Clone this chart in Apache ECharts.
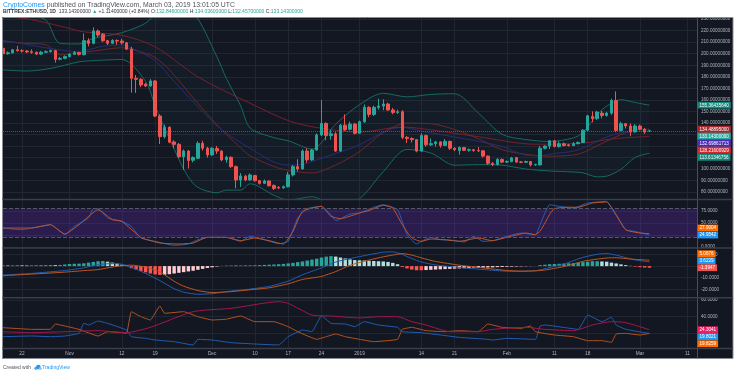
<!DOCTYPE html>
<html><head><meta charset="utf-8">
<script src="https://cdn.jsdelivr.net/npm/echarts@6/dist/echarts.min.js"></script>
<style>html,body{margin:0;padding:0;background:#fff;}#c{width:736px;height:374px;}</style>
</head><body><div id="c"></div>
<script>
// ---------------- DATA ----------------
// [date, open, close, low, high]
const candles = [
['10-18',204.7,200.0,198.8,206.0],['10-19',200.0,200.8,199.2,202.0],['10-20',200.8,203.4,200.2,204.2],
['10-21',203.4,202.6,201.8,206.8],['10-22',202.6,202.4,201.0,203.8],['10-23',202.4,201.6,200.6,203.2],
['10-24',201.8,201.2,200.0,203.8],['10-25',201.2,199.7,198.9,202.0],['10-26',199.7,201.3,199.0,202.5],
['10-27',201.3,201.8,200.8,202.9],['10-28',201.8,202.7,201.2,203.6],['10-29',202.7,195.2,192.3,203.5],
['10-30',195.2,196.0,194.4,197.2],['10-31',196.0,197.5,195.3,198.6],['11-01',197.6,199.5,196.8,200.6],
['11-02',199.5,201.0,198.9,202.4],['11-03',201.0,199.5,198.5,201.6],['11-04',199.2,211.3,198.6,217.6],
['11-05',211.3,209.0,206.4,213.5],['11-06',209.0,219.7,208.2,222.9],['11-07',219.7,216.2,214.5,221.0],
['11-08',217.0,211.3,210.0,217.8],['11-09',211.3,209.0,207.6,212.0],['11-10',209.0,211.5,208.4,212.6],
['11-11',211.5,211.0,207.8,212.4],['11-12',211.0,209.5,208.0,213.0],['11-13',209.5,204.0,203.2,210.0],
['11-14',204.0,178.7,166.2,206.0],['11-15',178.7,177.8,166.0,181.5],['11-16',177.8,172.9,171.0,178.8],
['11-17',173.6,172.0,171.0,174.8],['11-18',172.0,176.4,171.5,178.0],['11-19',176.4,146.0,145.0,177.0],
['11-20',146.0,128.1,121.7,147.5],['11-21',128.1,136.2,126.5,138.5],['11-22',136.2,123.2,122.4,137.0],
['11-23',123.5,121.4,118.0,125.0],['11-24',121.4,110.7,109.5,122.6],['11-25',110.7,115.6,99.2,117.0],
['11-26',115.6,107.3,100.5,116.4],['11-27',107.6,109.9,105.8,111.0],['11-28',109.3,122.3,108.5,124.0],
['11-29',122.3,118.0,116.0,124.5],['11-30',118.0,112.2,110.0,119.2],['12-01',112.2,118.0,111.5,119.0],
['12-02',117.8,115.6,113.0,120.0],['12-03',115.6,107.9,106.8,116.2],['12-04',108.1,110.2,105.5,111.6],
['12-05',110.2,102.1,101.0,111.0],['12-06',102.1,90.5,83.3,103.0],['12-07',90.5,94.0,84.5,96.5],
['12-08',93.8,90.5,89.5,95.0],['12-09',90.5,94.9,89.8,96.2],['12-10',94.3,89.9,89.0,95.0],
['12-11',89.9,87.6,86.5,90.5],['12-12',87.6,89.6,87.0,90.8],['12-13',89.6,85.5,84.9,90.0],
['12-14',85.8,83.2,81.8,86.5],['12-15',84.2,83.6,82.5,85.0],['12-16',83.6,84.6,83.0,85.8],
['12-17',84.6,94.9,84.0,97.5],['12-18',94.9,102.1,93.5,103.5],['12-19',102.1,100.1,98.0,108.5],
['12-20',100.1,115.6,99.5,117.0],['12-21',115.6,107.9,105.5,118.0],['12-22',107.9,116.5,107.0,117.5],
['12-23',116.5,129.5,116.0,131.0],['12-24',129.5,139.6,128.5,159.8],['12-25',139.6,129.0,125.0,140.5],
['12-26',129.0,130.5,125.5,134.0],['12-27',130.5,115.6,115.0,132.0],['12-28',115.6,138.0,115.0,139.0],
['12-29',138.0,134.0,133.0,147.4],['12-30',134.5,139.0,133.5,141.0],['12-31',139.0,131.0,130.0,140.0],
['01-01',131.0,141.0,130.5,142.0],['01-02',141.0,153.5,140.0,156.0],['01-03',153.5,147.4,145.0,154.5],
['01-04',147.4,153.5,146.0,155.0],['01-05',153.5,154.6,151.5,161.0],['01-06',154.6,156.4,151.0,160.5],
['01-07',156.4,151.2,150.5,157.5],['01-08',151.2,149.1,147.5,153.0],['01-09',149.1,149.7,147.8,151.5],
['01-10',149.7,127.5,126.0,151.0],['01-11',127.5,126.5,122.5,128.5],['01-12',126.5,125.5,123.0,127.5],
['01-13',125.5,115.6,114.5,126.0],['01-14',115.6,129.0,115.0,131.0],['01-15',129.0,121.0,119.5,130.0],
['01-16',121.0,122.0,120.0,126.5],['01-17',122.0,123.5,119.5,124.5],['01-18',123.5,120.5,118.5,124.0],
['01-19',120.5,124.0,120.0,126.0],['01-20',124.0,118.0,116.5,124.5],['01-21',118.0,116.8,115.5,118.8],
['01-22',116.0,118.6,112.5,119.5],['01-23',118.6,116.3,115.5,119.2],['01-24',116.3,116.8,115.0,117.8],
['01-25',116.8,116.0,115.0,117.2],['01-26',116.0,115.8,114.8,119.0],['01-27',115.8,111.2,110.0,116.4],
['01-28',111.2,105.0,103.5,111.6],['01-29',105.0,103.9,102.5,106.0],['01-30',103.9,108.4,103.0,109.5],
['01-31',108.4,106.0,105.0,109.0],['02-01',106.0,106.5,105.2,107.5],['02-02',106.5,109.6,105.8,110.5],
['02-03',109.9,106.0,105.5,110.2],['02-04',106.2,105.9,105.0,107.0],['02-05',105.9,106.5,105.3,107.2],
['02-06',106.5,103.6,102.2,107.0],['02-07',103.6,103.9,102.8,104.6],['02-08',103.6,118.0,103.0,120.0],
['02-09',118.0,119.9,117.0,120.5],['02-10',119.9,124.5,117.2,125.0],['02-11',124.5,119.5,119.0,125.0],
['02-12',119.5,121.9,118.5,124.0],['02-13',121.9,120.4,119.5,123.0],['02-14',121.0,120.4,119.5,121.8],
['02-15',120.4,122.0,119.8,123.4],['02-16',122.0,123.0,121.4,124.0],['02-17',123.0,133.7,122.6,134.5],
['02-18',133.7,146.2,133.0,147.0],['02-19',145.6,143.9,140.5,150.0],['02-20',143.9,149.4,142.5,150.5],
['02-21',148.5,146.5,144.0,150.5],['02-22',146.5,148.5,145.5,149.5],['02-23',148.5,159.5,147.0,161.0],
['02-24',159.5,133.5,132.0,167.3],['02-25',133.5,139.3,132.5,141.0],['02-26',139.3,137.3,135.2,140.0],
['02-27',137.3,132.2,128.5,139.5],['02-28',132.2,137.3,131.5,139.0],['03-01',137.3,134.5,133.5,138.5],
['03-02',134.5,132.03,130.5,135.5],['03-03',132.846,133.143,132.457,134.036]
];
const futureDates = ['03-04','03-05','03-06','03-07','03-08','03-09','03-10','03-11','03-12','03-13'];

// x-axis tick labels (date -> label)
const tickLabels = {'10-22':'22','11-01':'Nov','11-12':'12','11-19':'19','12-01':'Dec','12-10':'10',
  '12-17':'17','12-24':'24','01-01':'2019','01-14':'14','01-21':'21','02-01':'Feb','02-11':'11',
  '02-18':'18','03-01':'Mar','03-11':'11'};
const priceTicks = [80,90,100,110,120,130,140,150,160,170,180,190,200,210,220,230];
const stochTicks = [0,25,50,75];
const macdTicks = [-20,-10,0,10];
const dmiTicks = [20,40,60];

// Bollinger Bands
const bbUpper = [['10-18',236],['10-23',233],['10-27',229.3],['10-30',209],['11-03',208.5],['11-06',213.3],
 ['11-12',218.3],['11-17',226.5],['11-19',234.5],['11-22',246],['11-27',236],['12-02',197.4],['12-04',178.5],
 ['12-07',154.9],['12-09',135.6],['12-14',127.2],['12-17',124.5],['12-22',117.3],['12-27',139],['01-01',155.9],
 ['01-06',165.7],['01-11',162.6],['01-16',164.7],['01-21',165.3],['01-26',148.6],['01-31',130.1],['02-05',125.6],
 ['02-10',123.9],['02-15',127],['02-17',131.7],['02-20',147.2],['02-22',154.6],['02-25',160.1],['02-28',157.7],
 ['03-03',155.3643564]];
const bbLower = [['10-18',186],['10-23',185],['10-27',186.5],['10-30',189],['11-03',193],['11-06',194],
 ['11-12',195],['11-17',176],['11-19',155],['11-22',126.4],['11-27',87.4],['12-02',79.4],['12-04',81.7],
 ['12-07',81.7],['12-09',87.2],['12-14',77.2],['12-17',73.1],['12-22',75.9],['12-27',68],['01-01',74.3],
 ['01-06',97.7],['01-11',117],['01-16',113.9],['01-21',103.3],['01-26',103.8],['01-31',103.3],['02-05',100],
 ['02-10',98.3],['02-15',97.4],['02-17',96.7],['02-20',93.2],['02-22',93.8],['02-25',99.7],['02-28',110.1],
 ['03-03',113.61346756]];
const bbBasis = [['10-18',211],['10-23',209],['10-27',207.9],['10-30',199],['11-03',200.8],['11-06',202.3],
 ['11-12',205.2],['11-17',200.2],['11-19',196.7],['11-22',186.2],['11-27',161.7],['12-02',138.4],['12-04',130.1],
 ['12-07',118.3],['12-09',111.4],['12-14',102.2],['12-17',98.8],['12-22',96.6],['12-27',103.5],['01-01',115.1],
 ['01-06',131.7],['01-11',139.8],['01-16',139.3],['01-21',134.3],['01-26',126.2],['01-31',116.7],['02-05',112.8],
 ['02-10',111.1],['02-15',112.2],['02-17',114.2],['02-20',120.2],['02-22',124.2],['02-25',129.9],['02-28',133.9],
 ['03-03',134.48895]];
const emaLine = [['10-18',211.5],['10-23',208],['10-28',204.5],['11-02',202],['11-05',203.5],['11-08',206.5],
 ['11-12',207.5],['11-15',203],['11-19',194],['11-23',176],['11-28',154],['12-03',134],['12-09',118],
 ['12-14',106],['12-17',103.5],['12-20',104],['12-23',108],['12-27',113.5],['01-01',121],['01-06',132],
 ['01-10',136.2],['01-14',133],['01-18',130],['01-22',127],['01-26',124],['01-31',119.5],['02-05',112],
 ['02-08',111.5],['02-11',113.5],['02-15',115.5],['02-18',120],['02-21',126],['02-24',130.5],['02-27',132.3],
 ['03-03',132.69861713]];
const slowLine = [['10-18',233],['10-24',229.5],['10-30',224],['11-04',219],['11-12',216],['11-19',206],
 ['11-28',180],['12-09',157],['12-17',142],['12-23',136],['01-01',132],['01-10',136.5],['01-16',134],
 ['01-26',128],['02-07',121.5],['02-17',122.5],['02-24',126.5],['03-03',128.21600929]];

// Stochastic
const stochK = [['10-18',39.5],['10-22',36],['10-24',39.5],['10-28',46.5],['10-30',32.5],['10-31',25.6],
 ['11-02',43],['11-05',60.4],['11-06',79.8],['11-07',79.8],['11-09',60.4],['11-12',53.5],['11-14',43],
 ['11-16',18.7],['11-19',11.8],['11-23',3.5],['11-26',6.2],['11-28',15.2],['11-30',20.1],['12-04',20.1],
 ['12-07',11.8],['12-09',22.2],['12-12',15.2],['12-15',6.9],['12-17',11.8],['12-19',60.4],['12-21',79.8],
 ['12-24',84.7],['12-26',67.4],['12-27',54.8],['12-30',68.8],['01-01',70.9],['01-04',82.6],['01-06',88.1],
 ['01-09',77.7],['01-11',25.6],['01-13',6.2],['01-14',11.8],['01-16',20.1],['01-18',15.2],['01-21',13.8],
 ['01-23',10.4],['01-25',22.2],['01-27',11.8],['01-29',13.2],['02-01',22.2],['02-04',29.1],['02-07',25.6],
 ['02-08',46.5],['02-10',88.1],['02-12',84.7],['02-15',81.3],['02-18',91.6],['02-22',95.1],['02-23',81.3],
 ['02-26',36],['02-28',32.5],['03-03',24.9542]];
const stochD = [['10-18',39.5],['10-24',39.5],['10-28',46.5],['10-31',27],['11-03',46.5],['11-07',77.7],
 ['11-10',57],['11-12',53.5],['11-16',20.1],['11-20',8.3],['11-24',6.2],['11-27',8.3],['11-30',20.1],
 ['12-04',20.1],['12-07',13.2],['12-10',18.7],['12-13',13.2],['12-16',6.2],['12-18',32.5],['12-20',74.2],
 ['12-24',84.7],['12-26',63.9],['12-28',59],['12-31',67.4],['01-01',70.9],['01-03',76],['01-06',86.8],
 ['01-08',81.3],['01-10',46.5],['01-12',18.7],['01-14',11.8],['01-16',16.6],['01-19',15.2],['01-22',11.8],
 ['01-24',15.2],['01-26',18.7],['01-29',13.2],['02-01',20.1],['02-05',29.1],['02-07',25.6],['02-08',33],
 ['02-09',50],['02-10',68],['02-11',80],['02-14',83],['02-16',82.6],['02-19',91.6],['02-22',93.7],
 ['02-24',67.4],['02-26',36],['03-01',29.1],['03-03',27.9004]];

// MACD
const macdLine = [['10-18',-7.7],['10-24',-6.3],['10-31',-3.8],['11-04',-1.5],['11-07',1.2],['11-10',2.2],
 ['11-12',1.6],['11-14',-1.0],['11-17',-6.3],['11-20',-12.5],['11-23',-19.5],['11-25',-22.5],['11-28',-24.3],
 ['12-01',-23.8],['12-05',-21.5],['12-09',-19.8],['12-13',-17.5],['12-17',-13],['12-20',-7.5],['12-24',-1.5],
 ['12-27',3.5],['12-30',6.5],['01-03',9.8],['01-06',12.0],['01-08',12.3],['01-10',10],['01-12',6.5],
 ['01-14',3.5],['01-17',1],['01-22',-1.2],['01-26',-2.6],['01-29',-3.6],['02-01',-4.4],['02-04',-4.6],
 ['02-07',-4.0],['02-09',-2.2],['02-13',1.8],['02-17',7.5],['02-20',10.2],['02-22',10.8],['02-24',9.5],
 ['02-26',7.3],['02-28',5.3],['03-03',3.6229]];
const macdSignal = [['10-18',-8.3],['10-24',-6.9],['10-31',-5.2],['11-04',-3.9],['11-07',-3.0],['11-10',-0.8],
 ['11-12',0.4],['11-14',0.8],['11-17',-0.9],['11-20',-4.9],['11-23',-13.1],['11-25',-17.3],['11-28',-21.1],
 ['12-01',-22.8],['12-05',-22.0],['12-09',-20.4],['12-13',-18.7],['12-17',-15.3],['12-20',-11.5],['12-24',-8.9],
 ['12-27',-4.7],['12-30',0.7],['01-03',5.2],['01-06',8.0],['01-08',9.5],['01-10',10.8],['01-12',9.5],
 ['01-14',7.1],['01-17',4.0],['01-22',0.8],['01-26',-1.1],['01-29',-2.5],['02-01',-3.8],['02-04',-4.3],
 ['02-07',-4.1],['02-09',-3.4],['02-13',-0.4],['02-17',4.1],['02-20',6.0],['02-22',7.0],['02-24',7.2],
 ['02-26',6.5],['02-28',5.8],['03-03',5.0676]];
// histogram, one value per candle (Oct 18 .. Mar 3)
const macdHist = [0.6,0.5,0.6,0.7,0.6,0.5,0.6,0.7,0.8,0.8,0.9,
 0.8,1.0,1.4,1.8,2.0,2.1,2.4, 3.0,3.6,4.2,4.4, 3.8,3.0,2.2,1.2,0.4,
 -1.8,-3.0,-4.2,-5.4,-6.4,-7.2,-7.6,
 -7.4,-7.0,-6.4,-5.8,-5.2,-4.6,-4.0,-3.2,-2.4,-1.6,-1.0,-0.4,
 0.2,0.4,0.5,0.4,0.5,0.6,0.6,0.7,0.8,1.0, 1.2,1.4,1.6,1.9,2.3,
 2.8,3.4,4.0,4.8,5.6,6.4,7.4,8.2, 8.6,8.2,7.4,6.6,5.8,5.2,
 5.0,4.8,4.6,4.4,4.2,4.0,3.6, 2.8,1.6,
 -0.8,-2.0,-3.0,-3.6,-3.6,-3.4,
 -3.2,-3.0,-2.8,-2.6,-2.4,-2.2,-2.0,-1.8,-1.6,-1.6,-1.5,-1.3,-1.2,-1.1,-0.9,
 -0.8,-0.6,-0.5,-0.4,-0.3,-0.2, -0.1,0.1,
 0.8,1.2,1.6,1.8,2.0,2.2,2.4,2.6,3.0, 3.4,3.8,4.2,4.2,4.0,3.8,
 3.0,2.3,1.5,0.8,0.2, -0.5,-0.9,-1.2,-1.3947];

// DMI
const diPlus = [['10-18',16],['10-24',16.8],['10-28',16],['10-31',16.8],['11-03',20],['11-04',32],['11-05',30],
 ['11-07',34.8],['11-09',32],['11-13',24],['11-14',16],['11-17',14],['11-19',12],['11-23',10],['11-27',6],
 ['11-28',12.8],['12-01',12],['12-05',8.8],['12-10',7.2],['12-15',6],['12-17',16],['12-20',24],['12-22',22],
 ['12-24',41.2],['12-26',32],['12-29',31.2],['12-31',28],['01-02',34],['01-05',30],['01-09',27.2],['01-10',22],
 ['01-14',20.8],['01-18',18],['01-22',15.2],['01-28',12.8],['01-29',12],['02-01',14],['02-07',12.8],
 ['02-08',28.8],['02-09',30],['02-16',24.8],['02-18',42],['02-21',34],['02-23',39.2],['02-24',30],
 ['02-26',24.8],['03-03',19.8021]];
const diMinus = [['10-18',26.8],['10-24',24.8],['10-28',24.8],['10-29',31.2],['10-31',28.8],['11-03',24.8],
 ['11-07',16.8],['11-09',22],['11-12',20.8],['11-13',20],['11-14',46],['11-16',40],['11-18',36],['11-20',52.8],
 ['11-21',44],['11-25',46],['11-28',40],['12-01',36],['12-04',37],['12-07',40.8],['12-10',34],['12-14',34],
 ['12-17',28],['12-19',22],['12-23',12.8],['12-25',16],['12-27',19.2],['12-29',16],['01-01',12.8],['01-04',10],
 ['01-09',12.8],['01-10',24.8],['01-12',27.2],['01-15',23.2],['01-19',22],['01-22',23.2],['01-26',22],
 ['01-28',31.2],['01-31',27.2],['02-04',26],['02-06',28.8],['02-07',22],['02-11',18],['02-15',16],['02-18',11.2],
 ['02-21',11.2],['02-23',9.2],['02-24',19.2],['02-26',20],['03-01',18],['03-03',19.8259]];
const adxLine = [['10-18',22],['10-24',20.8],['10-31',22],['11-07',23.2],['11-13',20.8],['11-18',27.2],
 ['11-27',46],['12-05',50],['12-15',58],['12-17',56],['12-22',42],['12-26',40.8],['01-01',38.5],['01-05',40],
 ['01-09',40],['01-12',34],['01-15',30],['01-20',22],['01-26',22],['01-29',24.8],['02-05',27.2],['02-09',24.8],
 ['02-15',23.2],['02-19',30],['02-23',34],['02-26',32.8],['03-03',24.3041]];

// ---------------- CHART ----------------
const FONT = '"Liberation Sans", Arial, sans-serif';
const dates = candles.map(c => c[0]).concat(futureDates);
const ohlc = candles.map(c => [c[1], c[2], c[3], c[4]]);
const lastClose = candles[candles.length - 1][2];
const last = a => a[a.length - 1][1];

const mctx = document.createElement('canvas').getContext('2d');
function tw(t, f) { mctx.font = f; return mctx.measureText(t).width; }

const GRID_C = '#222631';
const LABEL_C = '#b2b5be';
const showTick = (i, v) => tickLabels[v] !== undefined;

function xAxisFor(gi, labels) {
  return {
    type: 'category', gridIndex: gi, data: dates, boundaryGap: false,
    axisLine: {show: false}, axisTick: {show: false},
    axisLabel: labels ? {show: true, interval: showTick, formatter: v => tickLabels[v] || '',
      color: LABEL_C, fontSize: 4.8, fontFamily: FONT, margin: 3.2} : {show: false},
    splitLine: {show: true, interval: showTick, lineStyle: {color: GRID_C, width: 1}}
  };
}
function yAxisFor(gi, min, max, ticks, digits) {
  return {
    type: 'value', gridIndex: gi, position: 'right', min, max,
    axisLine: {show: false}, axisTick: {show: false, customValues: ticks},
    axisLabel: {show: true, customValues: ticks, formatter: v => Number(v).toFixed(digits),
      color: LABEL_C, fontSize: 4.6, fontFamily: FONT, margin: 4},
    splitLine: {show: true, lineStyle: {color: GRID_C, width: 1}}
  };
}
const lineS = (data, color, xi, smooth, extra) => Object.assign({
  type: 'line', data, xAxisIndex: xi, yAxisIndex: xi, symbol: 'none', smooth: smooth, z: 3,
  silent: true, lineStyle: {color, width: 1}
}, extra || {});

function histColor(k) {
  const v = macdHist[k], p = k > 0 ? macdHist[k - 1] : 0;
  if (v >= 0) return v >= p ? '#26a69a' : '#b2dfdb';
  return v <= p ? '#ff5252' : '#ffcdd2';
}

const chart = echarts.init(document.getElementById('c'), null, {renderer: 'canvas'});
const option = {
  animation: false,
  backgroundColor: '#131722',
  grid: [
    {left: 3, right: 39, top: 18, height: 181},
    {left: 3, right: 39, top: 199, height: 48},
    {left: 3, right: 39, top: 248, height: 49},
    {left: 3, right: 39, top: 298, height: 50}
  ],
  xAxis: [xAxisFor(0, false), xAxisFor(1, false), xAxisFor(2, false), xAxisFor(3, true)],
  yAxis: [
    yAxisFor(0, 74, 231, priceTicks, 8),
    yAxisFor(1, 0, 100, stochTicks, 4),
    yAxisFor(2, -26.638, 15.603, macdTicks, 4),
    yAxisFor(3, 2.4, 62.4, dmiTicks, 4)
  ],
  series: [
    {type: 'candlestick', xAxisIndex: 0, yAxisIndex: 0, data: ohlc, barWidth: 3, z: 5, silent: true,
     itemStyle: {color: '#26a69a', color0: '#ef5350', borderColor: '#26a69a', borderColor0: '#ef5350', borderWidth: 1},
     markLine: {symbol: 'none', silent: true, label: {show: false},
       lineStyle: {color: '#26a69a', type: 'dotted', width: 1, opacity: 0.6}, data: [{yAxis: lastClose}]}},
    lineS(bbLower, 'rgba(0,0,0,0)', 0, 0.3, {stack: 'bb', z: 1, lineStyle: {width: 0, opacity: 0}}),
    lineS(bbUpper.map((p, k) => [p[0], p[1] - bbLower[k][1]]), 'rgba(0,0,0,0)', 0, 0.3,
      {stack: 'bb', z: 1, lineStyle: {width: 0, opacity: 0}, areaStyle: {color: 'rgba(38,166,154,0.06)'}}),
    lineS(bbUpper, '#176a61', 0, 0.3),
    lineS(bbLower, '#176a61', 0, 0.3),
    lineS(bbBasis, '#6a272c', 0, 0.3),
    lineS(emaLine, '#2b2a78', 0, 0.3),
    lineS(slowLine, '#77202f', 0, 0.3),
    lineS(stochK, '#2460b8', 1, 0.15, {
      markArea: {silent: true, itemStyle: {color: 'rgba(115,45,215,0.24)'}, data: [[{yAxis: 20}, {yAxis: 80}]]},
      markLine: {symbol: 'none', silent: true, label: {show: false},
        lineStyle: {color: '#555866', type: 'dashed', width: 1}, data: [{yAxis: 80}, {yAxis: 20}]}}),
    lineS(stochD, '#c3542a', 1, 0.15),
    {type: 'bar', xAxisIndex: 2, yAxisIndex: 2, barWidth: '72%', silent: true, z: 2,
     data: macdHist.map((v, k) => ({value: v, itemStyle: {color: histColor(k)}}))},
    lineS(macdLine, '#215cb0', 2, 0.2),
    lineS(macdSignal, '#bf5620', 2, 0.2),
    lineS(diPlus, '#215cb0', 3, 0.1),
    lineS(diMinus, '#b5531e', 3, 0.1),
    lineS(adxLine, '#a3164f', 3, 0.2)
  ]
};
chart.setOption(option);

// ---------------- BADGES / FRAME / TEXT ----------------
function layout(list, yi, mode) {
  const H = 7;
  const ys = list.map(b => chart.convertToPixel({yAxisIndex: yi}, b.v));
  if (mode === 'down') { for (let k = 1; k < ys.length; k++) ys[k] = Math.max(ys[k], ys[k - 1] + H); }
  else { for (let k = ys.length - 2; k >= 0; k--) ys[k] = Math.min(ys[k], ys[k + 1] - H); }
  return list.map((b, k) => Object.assign({}, b, {y: ys[k]}));
}
const badges = [].concat(
  layout([{v: last(bbUpper), c: '#15877b', d: 8}], 0, 'down'),
  layout([{v: last(bbBasis), c: '#a3282c', d: 8}, {v: lastClose, c: '#26a69a', d: 8},
          {v: last(emaLine), c: '#4a2ab3', d: 8}, {v: last(slowLine), c: '#d0282e', d: 8},
          {v: last(bbLower), c: '#15877b', d: 8}], 0, 'down'),
  layout([{v: last(stochD), c: '#ff6d00', d: 4}, {v: last(stochK), c: '#2196f3', d: 4}], 1, 'up'),
  layout([{v: last(macdSignal), c: '#ff6d00', d: 4}, {v: last(macdLine), c: '#2196f3', d: 4},
          {v: macdHist[macdHist.length - 1], c: '#ef5350', d: 4}], 2, 'up'),
  layout([{v: last(adxLine), c: '#e91e63', d: 4}, {v: last(diPlus), c: '#2196f3', d: 4},
          {v: last(diMinus), c: '#ff6d00', d: 4}], 3, 'down')
);
const BF = '4.6px ' + FONT;
const gfx = [];
badges.forEach(b => {
  const t = b.v.toFixed(b.d);
  const w = tw(t, BF) + 4;
  gfx.push({type: 'rect', z: 110, shape: {x: 697.5, y: b.y - 3.4, width: w, height: 6.8}, style: {fill: b.c}});
  gfx.push({type: 'text', z: 111, x: 699.5, y: b.y + 0.2, style: {text: t, font: BF, fill: '#fff', verticalAlign: 'middle', align: 'left'}});
});
// white surround
gfx.push({type: 'rect', z: 100, shape: {x: 0, y: 0, width: 736, height: 17}, style: {fill: '#fff'}});
gfx.push({type: 'rect', z: 100, shape: {x: 0, y: 358.5, width: 736, height: 16}, style: {fill: '#fff'}});
gfx.push({type: 'rect', z: 100, shape: {x: 0, y: 0, width: 2, height: 374}, style: {fill: '#fff'}});
gfx.push({type: 'rect', z: 100, shape: {x: 733, y: 0, width: 3, height: 374}, style: {fill: '#fff'}});
// frame and separators
gfx.push({type: 'rect', z: 101, shape: {x: 2.5, y: 17.5, width: 730.5, height: 341}, style: {fill: null, stroke: '#8a8d96', lineWidth: 1}});
gfx.push({type: 'line', z: 101, shape: {x1: 697.5, y1: 17.5, x2: 697.5, y2: 358.5}, style: {stroke: '#4a4e59', lineWidth: 1}});
[199.5, 248, 297.8, 348.5].forEach(y => gfx.push({type: 'line', z: 101,
  shape: {x1: 2.5, y1: y, x2: 733, y2: y}, style: {stroke: '#3a3e4a', lineWidth: 1.4}}));

function run(x, y, parts, size) {
  let cx = x;
  parts.forEach(p => {
    const f = (p.b ? 'bold ' : '') + size.toFixed(2) + 'px ' + FONT;
    gfx.push({type: 'text', z: 112, x: cx, y, style: {text: p.t, font: f, fill: p.c, verticalAlign: 'middle', align: 'left'}});
    cx += tw(p.t, f);
  });
}
function fit(parts, target) {
  let w = 0;
  parts.forEach(p => { w += tw(p.t, (p.b ? 'bold ' : '') + '10px ' + FONT); });
  return 10 * target / w;
}
const G = '#26a69a', D = '#333640';
const line1 = [{t: 'CryptoComes', c: '#2196f3'}, {t: ' published on TradingView.com, March 03, 2019 13:01:05 UTC', c: '#50535e'}];
const line2 = [{t: 'BITTREX:ETHUSD, 1D', c: D, b: true}, {t: '  133.14300000 ', c: D}, {t: '▲', c: G},
  {t: ' +1.11400000 (+0.84%) ', c: D}, {t: 'O:', c: D}, {t: '132.84600000', c: G}, {t: ' H:', c: D},
  {t: '134.03600000', c: G}, {t: ' L:', c: D}, {t: '132.45700000', c: G}, {t: ' C:', c: D}, {t: '133.14300000', c: G}];
run(3, 5, line1, fit(line1, 232));
run(3, 11.5, line2, fit(line2, 300));
const foot1 = [{t: 'Created with', c: '#50535e'}];
run(3, 367.5, foot1, fit(foot1, 28));
const foot2 = [{t: 'TradingView', c: '#2196f3'}];
run(42, 367.5, foot2, fit(foot2, 28));
// small cloud logo
gfx.push({type: 'circle', z: 112, shape: {cx: 36, cy: 368.2, r: 1.8}, style: {fill: '#5fb0f0'}});
gfx.push({type: 'circle', z: 112, shape: {cx: 38.4, cy: 367, r: 2.3}, style: {fill: '#2196f3'}});
gfx.push({type: 'circle', z: 112, shape: {cx: 40.3, cy: 368.4, r: 1.5}, style: {fill: '#8cc8f5'}});

chart.setOption({graphic: {elements: gfx}});
</script></body></html>
